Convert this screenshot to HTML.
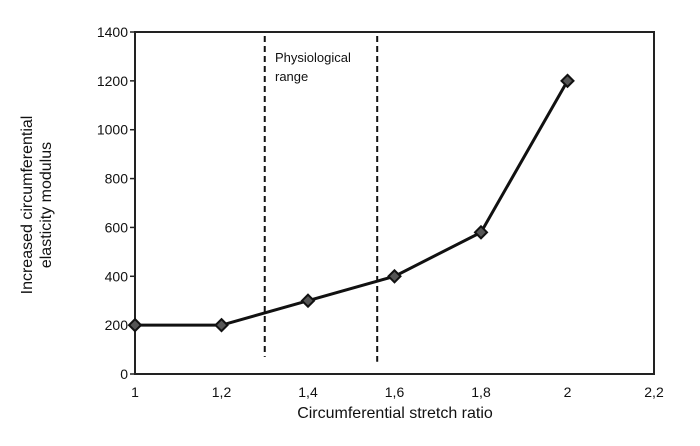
<!DOCTYPE html>
<html><head><meta charset="utf-8"><style>
body{margin:0;background:#fff;}
svg text{font-family:"Liberation Sans",sans-serif;fill:#111;}
</style></head><body>
<svg width="700" height="441">
<g id="axes"></g>
<text x="275" y="62" font-size="13">Physiological</text>
<text x="275" y="81" font-size="13">range</text>
<text x="395" y="418" font-size="16" text-anchor="middle">Circumferential stretch ratio</text>
<text transform="translate(32,205) rotate(-90)" font-size="16" text-anchor="middle"><tspan x="0" dy="0">Increased circumferential</tspan><tspan x="0" dy="19">elasticity modulus</tspan></text>
</svg>
<script>
const xs=[1,1.2,1.4,1.6,1.8,2];
const ys=[200,200,300,400,580,1200];
const xTicks=[1,1.2,1.4,1.6,1.8,2,2.2];
const xTickLabels=["1","1,2","1,4","1,6","1,8","2","2,2"];
const yTicks=[0,200,400,600,800,1000,1200,1400];
const rangeBounds=[1.3,1.56];
const rangeBottoms=[70,50];
const X=v=>135+(v-1)/1.2*519;
const Y=v=>374-v/1400*342;
const ns="http://www.w3.org/2000/svg";
const g=document.getElementById('axes');
function mk(t,a){const e=document.createElementNS(ns,t);for(const k in a)e.setAttribute(k,a[k]);g.appendChild(e);return e;}
let f=mk('rect',{x:X(1),y:Y(1400),width:X(2.2)-X(1),height:Y(0)-Y(1400),fill:'none',stroke:'#222','stroke-width':2});


yTicks.forEach(v=>{
 let l=mk('line',{x1:X(1)-5,x2:X(1),y1:Y(v),y2:Y(v),stroke:'#222','stroke-width':1.5});
 
 
 let t=mk('text',{x:X(1)-7,y:Y(v)+5,'font-size':14,'text-anchor':'end'});t.textContent=v;
 
 
});
xTicks.forEach((v,i)=>{
 let t=mk('text',{x:X(v),y:Y(0)+23,'font-size':14,'text-anchor':'middle'});t.textContent=xTickLabels[i];
 
 
});
rangeBounds.forEach((v,i)=>{
 let l=mk('line',{x1:X(v),x2:X(v),y1:Y(1400)+4,y2:Y(rangeBottoms[i]),stroke:'#111','stroke-width':2,'stroke-dasharray':'6,4'});
 
 
});
let p=mk('polyline',{points:xs.map((x,i)=>X(x)+','+Y(ys[i])).join(' '),fill:'none',stroke:'#111','stroke-width':3});


xs.forEach((x,i)=>{
 const cx=X(x),cy=Y(ys[i]);
 let m=mk('polygon',{points:`${cx},${cy-6} ${cx+6},${cy} ${cx},${cy+6} ${cx-6},${cy}`,fill:'#555',stroke:'#111','stroke-width':2});
 
 
});
</script>
</body></html>
